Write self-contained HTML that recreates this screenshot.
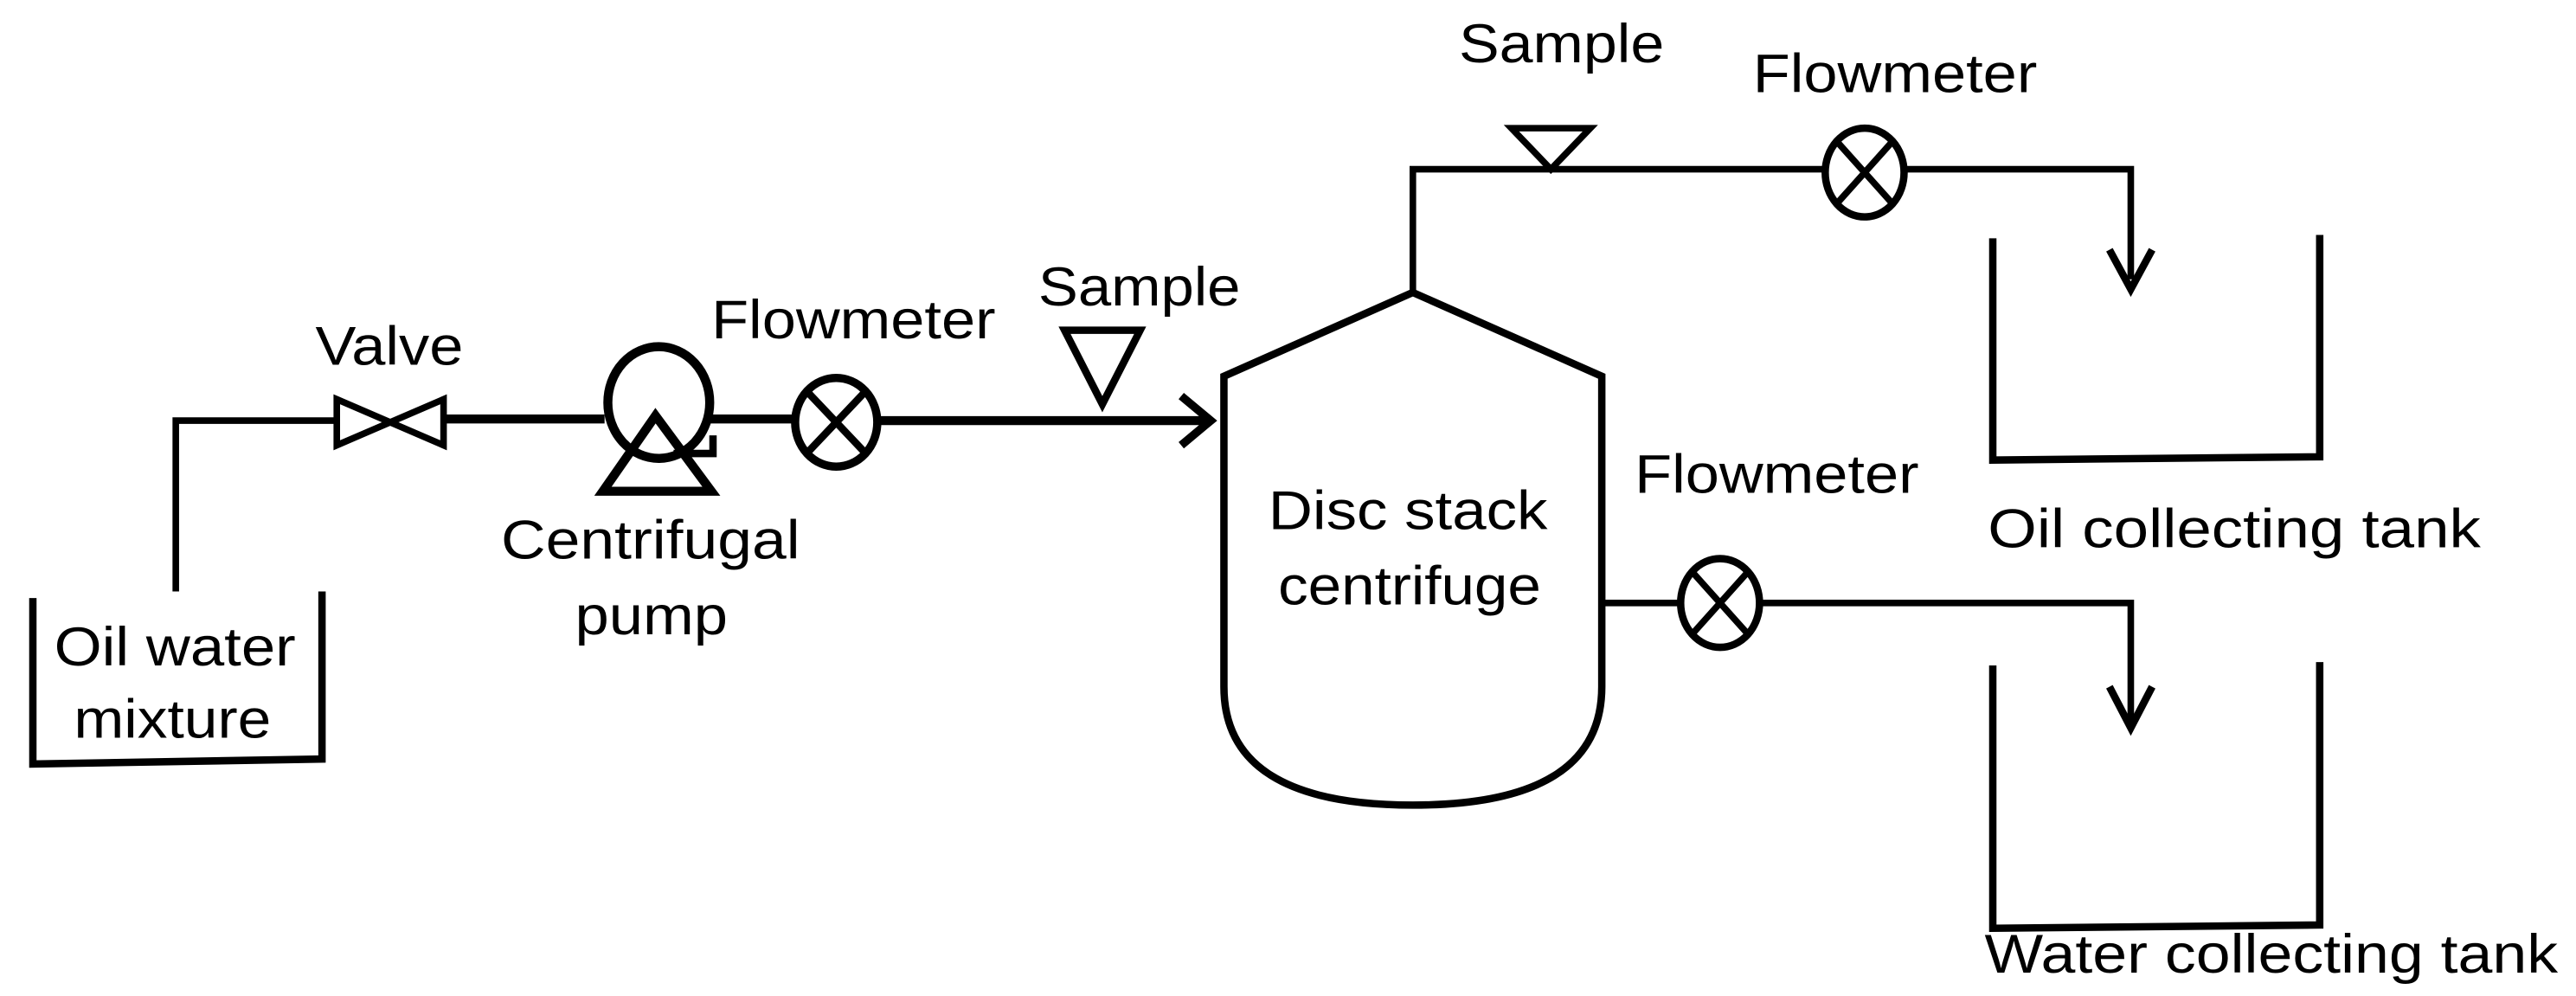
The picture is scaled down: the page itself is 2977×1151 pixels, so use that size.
<!DOCTYPE html>
<html><head><meta charset="utf-8"><style>
html,body{margin:0;padding:0;background:#fff;}
svg{display:block;}
text{font-family:"Liberation Sans",Arial,sans-serif;font-size:33px;fill:#000;}
</style></head><body>
<svg width="2977" height="1151" viewBox="0 0 1568 606.2" xmlns="http://www.w3.org/2000/svg">
<g fill="none" stroke="#000" stroke-width="4.5" stroke-linejoin="miter">
<path d="M20 364 V465 L196 462 V360" stroke-width="4.5"/>
<path d="M107 360 V256 H205" stroke-width="4"/>
<path d="M270 255 H368" stroke-width="5.5"/>
<path d="M205 243 L270 271 V243 L205 271 Z" stroke-width="4"/>
<ellipse cx="401" cy="245" rx="31" ry="34" stroke-width="5.5"/>
<path d="M399 253 L367 299 H433 Z" stroke-width="5.5"/>
<path d="M410 276 H434 V265" stroke-width="4.5"/>
<path d="M432 255 H484" stroke-width="5.5"/>
<ellipse cx="509" cy="257" rx="25" ry="27" stroke-width="5"/>
<path d="M491 238 L527 276 M527 238 L491 276" stroke-width="4.5"/>
<path d="M534 256 H736" stroke-width="5.5"/>
<path d="M719 241 L737 256 L719 271" stroke-width="5"/>
<path d="M648 201 H694 L671 246 Z" stroke-width="4.5"/>
<path d="M860 178 L975 229 V418 Q975 490 860 490 Q745 490 745 418 V229 Z" stroke-width="4.5"/>
<path d="M860 178 V103 H1297 V170" stroke-width="4"/>
<path d="M1284 152 L1297 176 L1310 152" stroke-width="4.5"/>
<path d="M920 78 H968 L944 103 Z" stroke-width="4" fill="#fff"/>
<ellipse cx="1135" cy="105" rx="24" ry="27" stroke-width="4.5" fill="#fff"/>
<path d="M1118 86 L1152 124 M1152 86 L1118 124" stroke-width="4"/>
<path d="M1213 145 V280 L1412 278 V143" stroke-width="4.5"/>
<path d="M975 367 H1297 V440" stroke-width="4"/>
<path d="M1284 418 L1297 443 L1310 418" stroke-width="4.5"/>
<ellipse cx="1047" cy="367" rx="24" ry="27" stroke-width="4.5" fill="#fff"/>
<path d="M1030 348 L1064 386 M1064 348 L1030 386" stroke-width="4"/>
<path d="M1213 405 V565 L1412 563 V403" stroke-width="4.5"/>
</g>
<g>
<text x="33" y="405" textLength="147" lengthAdjust="spacingAndGlyphs">Oil water</text>
<text x="45" y="449" textLength="120" lengthAdjust="spacingAndGlyphs">mixture</text>
<text x="192" y="222" textLength="90" lengthAdjust="spacingAndGlyphs">Valve</text>
<text x="305" y="340" textLength="182" lengthAdjust="spacingAndGlyphs">Centrifugal</text>
<text x="350" y="386" textLength="93" lengthAdjust="spacingAndGlyphs">pump</text>
<text x="433" y="206" textLength="173" lengthAdjust="spacingAndGlyphs">Flowmeter</text>
<text x="632" y="186" textLength="123" lengthAdjust="spacingAndGlyphs">Sample</text>
<text x="772" y="322" textLength="170" lengthAdjust="spacingAndGlyphs">Disc stack</text>
<text x="778" y="368" textLength="160" lengthAdjust="spacingAndGlyphs">centrifuge</text>
<text x="888" y="38" textLength="125" lengthAdjust="spacingAndGlyphs">Sample</text>
<text x="1067" y="56" textLength="173" lengthAdjust="spacingAndGlyphs">Flowmeter</text>
<text x="995" y="300" textLength="173" lengthAdjust="spacingAndGlyphs">Flowmeter</text>
<text x="1210" y="333" textLength="300" lengthAdjust="spacingAndGlyphs">Oil collecting tank</text>
<text x="1208" y="592" textLength="349" lengthAdjust="spacingAndGlyphs">Water collecting tank</text>
</g>
</svg>
</body></html>
